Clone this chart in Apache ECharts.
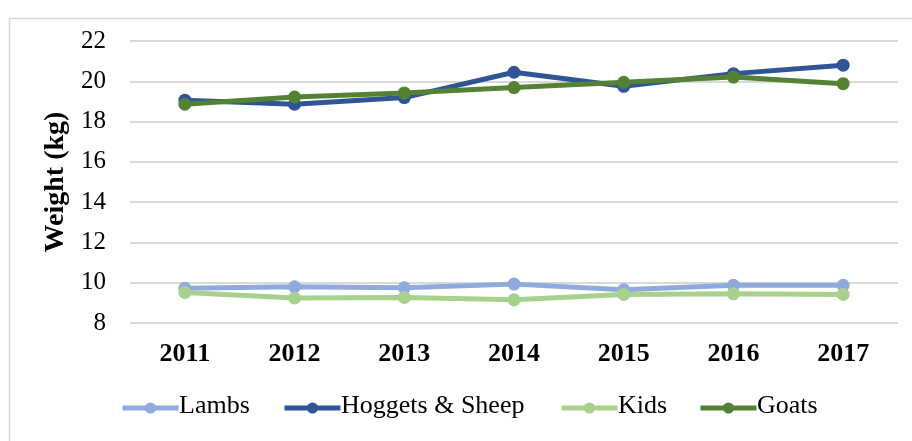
<!DOCTYPE html>
<html>
<head>
<meta charset="utf-8">
<script src="https://cdn.jsdelivr.net/npm/echarts@6/dist/echarts.min.js"></script>
<style>
  html, body { margin: 0; padding: 0; background: #fff; }
  #chart { width: 912px; height: 441px; }
</style>
</head>
<body>
<div id="chart"></div>
<script>
// data
const years = ["2011", "2012", "2013", "2014", "2015", "2016", "2017"];
const names = ["Lambs", "Hoggets & Sheep", "Kids", "Goats"];
const colors = ["#8faadc", "#2f5597", "#a9d18e", "#548235"];
const lambs = [9.72, 9.8, 9.75, 9.93, 9.65, 9.87, 9.87];
const hoggets = [19.06, 18.86, 19.19, 20.45, 19.75, 20.38, 20.8];
const kids = [9.52, 9.24, 9.27, 9.15, 9.42, 9.45, 9.42];
const goats = [18.86, 19.22, 19.42, 19.69, 19.95, 20.21, 19.88];

const font = "Liberation Serif";
// legend key positions (x of icon) – labels set as text next to them
const legendX = [120, 282, 559, 698];
const legendY = 408;

const chart = echarts.init(document.getElementById("chart"));

function lineSeries(name, data, color) {
  return {
    name: name,
    type: "line",
    data: data,
    symbol: "circle",
    symbolSize: 13,
    lineStyle: { width: 5, color: color },
    itemStyle: { color: color },
    animation: false,
  };
}

chart.setOption({
  backgroundColor: "#fff",
  textStyle: { fontFamily: font },
  graphic: [
    {
      type: "rect",
      shape: { x: 9.5, y: 18.5, width: 920, height: 440 },
      style: { fill: "none", stroke: "#d9d9d9", lineWidth: 1.5 },
    },
  ],
  // legend labels
  title: names.map((n, i) => ({
    text: n,
    left: legendX[i] + 59,
    top: legendY - 15,
    padding: 0,
    textStyle: { fontFamily: font, fontSize: 26, fontWeight: "normal", color: "#000" },
  })),
  grid: { left: 130, right: 14, top: 41, bottom: 118 },
  legend: names.map((n, i) => ({
    left: legendX[i],
    top: legendY - 7,
    padding: 0,
    itemWidth: 56,
    itemHeight: 14,
    lineStyle: { width: 5 },
    formatter: () => "",
    data: [n],
  })),
  xAxis: {
    type: "category",
    data: years,
    boundaryGap: true,
    axisLine: { show: false },
    axisTick: { show: false },
    axisLabel: {
      fontFamily: font,
      fontSize: 26,
      fontWeight: "bold",
      color: "#000",
      margin: 18,
    },
  },
  yAxis: {
    type: "value",
    min: 8,
    max: 22,
    interval: 2,
    name: "Weight (kg)",
    nameLocation: "middle",
    nameGap: 56,
    nameTextStyle: { fontFamily: font, fontSize: 28, fontWeight: "bold", color: "#000" },
    axisLine: { show: false },
    axisTick: { show: false },
    axisLabel: { fontFamily: font, fontSize: 25, color: "#000", margin: 24 },
    splitLine: { lineStyle: { color: "#d9d9d9", width: 2 } },
  },
  series: names.map((n, i) => lineSeries(n, [lambs, hoggets, kids, goats][i], colors[i])),
});
</script>
</body>
</html>
